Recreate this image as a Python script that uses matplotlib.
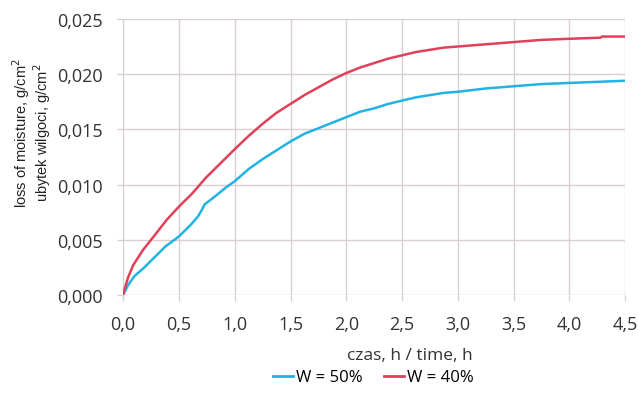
import numpy as np
import matplotlib
matplotlib.use("Agg")
import matplotlib.pyplot as plt
from matplotlib.ticker import FuncFormatter, MultipleLocator
from matplotlib.lines import Line2D

# W = 50 %
time_50 = [0.0, 0.015, 0.045, 0.1, 0.18, 0.27, 0.38, 0.5, 0.61, 0.67, 0.70,
           0.73, 0.82, 0.93, 1.0, 1.125, 1.25, 1.375, 1.5, 1.625, 1.75, 1.875,
           2.0, 2.125, 2.25, 2.375, 2.5, 2.625, 2.75, 2.875, 3.0, 3.25, 3.5,
           3.75, 4.0, 4.25, 4.5]
loss_50 = [0.0, 0.0003, 0.0009, 0.0017, 0.0024, 0.0033, 0.0044, 0.0053, 0.0064,
           0.0071, 0.0076, 0.0082, 0.0089, 0.0098, 0.0103, 0.0114, 0.0123,
           0.0131, 0.0139, 0.0146, 0.0151, 0.0156, 0.0161, 0.0166, 0.0169,
           0.0173, 0.0176, 0.0179, 0.0181, 0.0183, 0.0184, 0.0187, 0.0189,
           0.0191, 0.0192, 0.0193, 0.0194]

# W = 40 %
time_40 = [0.0, 0.015, 0.045, 0.09, 0.18, 0.29, 0.39, 0.5, 0.62, 0.74, 0.87,
           1.0, 1.125, 1.25, 1.375, 1.5, 1.625, 1.75, 1.875, 2.0, 2.125, 2.25,
           2.375, 2.5, 2.625, 2.75, 2.875, 3.0, 3.25, 3.5, 3.75, 4.0, 4.28,
           4.29, 4.5]
loss_40 = [0.0, 0.0006, 0.0016, 0.0027, 0.0041, 0.0055, 0.0068, 0.0080, 0.0092,
           0.0106, 0.0119, 0.0132, 0.0144, 0.0155, 0.0165, 0.0173, 0.0181,
           0.0188, 0.0195, 0.0201, 0.0206, 0.0210, 0.0214, 0.0217, 0.0220,
           0.0222, 0.0224, 0.0225, 0.0227, 0.0229, 0.0231, 0.0232, 0.0233,
           0.0234, 0.0234]

C_50 = "#22b2e4"
C_40 = "#de4159"
GRID = "#d9cfcf"

fig = plt.figure(figsize=(6.38, 4.06), dpi=100)
ax = fig.add_axes([0.193, 0.271, 0.787, 0.680])

ax.plot(time_50, loss_50, color=C_50, lw=1.8)
ax.plot(time_40, loss_40, color=C_40, lw=1.8)

ax.set_xlim(0, 4.5)
ax.set_ylim(0, 0.025)
ax.xaxis.set_major_locator(MultipleLocator(0.5))
ax.yaxis.set_major_locator(MultipleLocator(0.005))
ax.xaxis.set_major_formatter(FuncFormatter(lambda v, p: f"{v:.1f}".replace(".", ",")))
ax.yaxis.set_major_formatter(FuncFormatter(lambda v, p: f"{v:.3f}".replace(".", ",")))

ax.grid(True, color=GRID, lw=1.0)
ax.set_axisbelow(True)
for s in ax.spines.values():
    s.set_visible(False)
ax.tick_params(axis="both", colors=GRID, length=4.5, width=1.0, pad=10,
               labelcolor="#333333", labelsize=13)
for lab in ax.get_xticklabels() + ax.get_yticklabels():
    lab.set_fontfamily("Open Sans")
ax.tick_params(axis="x", pad=10)

ax.set_ylabel("loss of moisture, g/cm$^2$\nubytek wilgoci, g/cm$^2$",
              fontsize=10.5, family="Liberation Sans", color="#222222",
              linespacing=0.95)
ax.yaxis.set_label_coords(-0.14, 0.59)
ax.set_xlabel("czas, h / time, h", fontsize=12.5, family="Open Sans",
              color="#333333")
ax.xaxis.set_label_coords(0.57, -0.19)

handles = [Line2D([0], [0], color=C_50, lw=2, label="W = 50%"),
           Line2D([0], [0], color=C_40, lw=2, label="W = 40%")]
fig.legend(handles=handles, loc="center", bbox_to_anchor=(0.585, 0.068), ncol=2,
           frameon=False, handlelength=1.2, handletextpad=0.15, columnspacing=1.3,
           prop={"family": "Open Sans", "size": 12})

fig.savefig("out.png", dpi=100)
